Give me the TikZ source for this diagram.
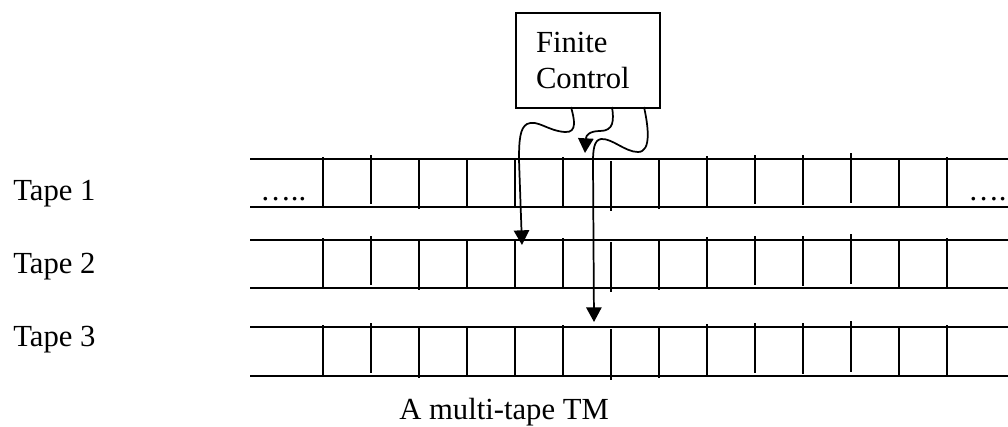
\documentclass[tikz,border=0pt]{standalone}
\usepackage{fontspec}
\setmainfont{Liberation Serif}
\usetikzlibrary{arrows.meta}
\begin{document}
\begin{tikzpicture}[x=0.75pt,y=-0.75pt,
  every node/.style={font=\fontsize{23}{27}\selectfont, inner sep=0pt},
  tapeline/.style={line width=1.5pt},
  cellwall/.style={line width=1.5pt},
  head/.style={line width=1.3pt, -{Triangle[width=11.5pt,length=11pt]}},
  tapetext/.style={anchor=base west},
  ctrlbox/.style={draw, line width=1.5pt, anchor=north west,
    minimum width=108pt, minimum height=71.25pt,
    text width=78pt, inner xsep=15pt, align=left}]
\useasboundingbox (0,0) rectangle (1008,426);

% finite control
\node[ctrlbox] (fc) at (515,12) {Finite\\Control};

% tape labels
\node[tapetext] (t1) at (13,200) {Tape 1};
\node[tapetext] (t2) at (13,273) {Tape 2};
\node[tapetext] (t3) at (13,346) {Tape 3};

% the three tapes with their cell walls
\foreach \yt/\yb in {159/207, 240/288, 327/376} {
  \draw[tapeline] (250,\yt) -- (1012,\yt);
  \draw[tapeline] (250,\yb) -- (1012,\yb);
  \foreach \k/\dt/\db in {0/-2/-1, 1/-4/-3, 2/0/2, 3/0/0, 4/0/0, 5/-2/-1,
      6/2/4, 7/0/2, 8/-3/0, 9/-4/-3, 10/-4/-2, 11/-6/-4, 12/0/0, 13/-2/0}
    \draw[cellwall] ({323+48*\k}, {\yt+(\dt)}) -- ({323+48*\k}, {\yb+(\db)});
}

% tape continues on both sides
\node[tapetext] (dl) at (260,200) {…..};
\node[tapetext] (dr) at (968,200) {…..};

% heads
\coordinate (s1) at (571,107);
\coordinate (s2) at (612,107);
\coordinate (s3) at (644,107);
\coordinate (h1) at (522,245);
\coordinate (h2) at (585,153);
\coordinate (h3) at (594,322);

\draw[head] (s1) .. controls (574,118) and (578,133) .. (565,132)
  .. controls (548,131) and (537,119) .. (527,124)
  .. controls (520,128) and (519,140) .. (519,160) -- (h1);
\draw[head] (s2) .. controls (614,120) and (614,131) .. (600,131)
  .. controls (590,131) and (586,135) .. (h2);
\draw[head] (s3) .. controls (648,125) and (652,152) .. (638,152)
  .. controls (625,152) and (612,138) .. (601,139)
  .. controls (594,140) and (593,150) .. (593,162) -- (h3);

% caption
\node[tapetext] (cap) at (399,419) {A multi-tape TM};
\end{tikzpicture}
\end{document}
